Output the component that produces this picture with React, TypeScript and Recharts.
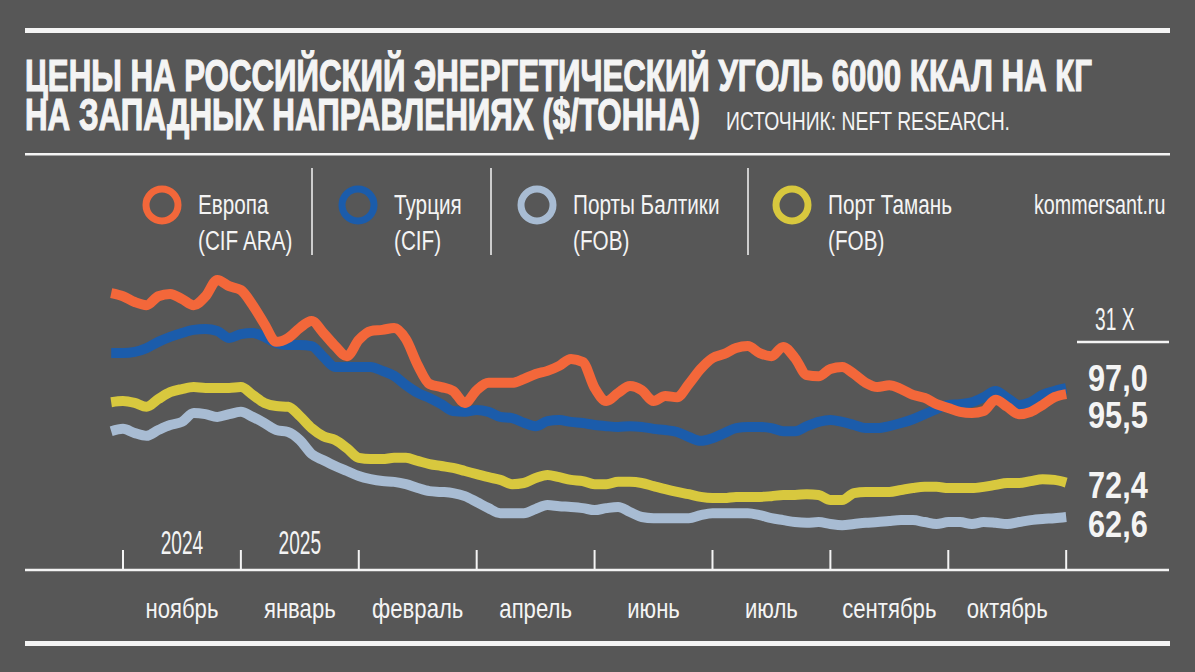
import React from 'react';
import { LineChart, Line, XAxis, YAxis } from 'recharts';

const weeks = Array.from({ length: 82 }, (_, i) => i - 1);

const europe = [121.6, 120.8, 119.3, 118.5, 120.8, 121.4, 120.1, 118.5, 120.8, 125.0, 123.4, 122.4, 118.5, 113.6, 109.0, 110.0, 112.6, 114.4, 111.3, 107.9, 105.3, 109.5, 111.8, 112.1, 112.6, 109.7, 103.0, 98.1, 97.3, 96.3, 93.2, 96.5, 98.4, 98.4, 98.4, 99.4, 100.7, 101.5, 102.8, 104.6, 103.8, 97.1, 93.7, 95.8, 97.6, 96.5, 93.7, 95.0, 94.7, 98.1, 102.0, 104.8, 105.9, 107.4, 107.9, 106.1, 105.3, 107.7, 104.8, 100.4, 100.1, 102.0, 102.5, 100.7, 98.4, 97.3, 97.8, 96.8, 95.3, 94.5, 92.9, 91.9, 90.9, 90.6, 91.1, 94.0, 92.2, 90.3, 90.9, 92.7, 94.7, 95.5];
const turkey = [106.1, 106.1, 106.4, 107.4, 109.0, 110.3, 111.3, 112.1, 112.3, 111.8, 110.0, 111.0, 111.3, 110.3, 108.7, 108.2, 108.2, 107.9, 105.1, 102.5, 102.5, 102.5, 102.5, 101.5, 100.2, 97.8, 95.8, 94.5, 92.9, 91.1, 90.9, 91.4, 90.9, 89.6, 89.3, 88.1, 87.2, 88.5, 88.8, 88.3, 88.0, 87.5, 87.2, 87.0, 87.2, 87.0, 86.5, 86.2, 85.7, 84.4, 83.4, 84.1, 85.4, 86.7, 87.0, 87.0, 86.7, 85.9, 85.9, 87.2, 88.3, 88.8, 88.3, 87.5, 86.7, 86.7, 87.2, 88.0, 89.0, 90.3, 91.6, 92.7, 92.9, 93.4, 94.7, 96.3, 94.5, 92.7, 93.4, 95.3, 96.3, 97.0];
const baltic = [85.9, 86.5, 85.4, 84.7, 86.2, 87.5, 88.3, 90.6, 90.3, 89.6, 90.3, 90.9, 89.6, 88.0, 86.2, 85.7, 83.6, 80.0, 78.4, 76.9, 75.6, 74.3, 73.5, 73.0, 72.8, 72.2, 71.2, 70.4, 70.2, 69.9, 69.1, 67.6, 66.0, 64.7, 64.7, 64.7, 65.8, 66.8, 66.5, 66.3, 66.0, 65.5, 66.0, 66.3, 65.0, 63.7, 63.4, 63.4, 63.4, 63.4, 64.2, 64.7, 64.7, 64.7, 64.7, 64.2, 63.4, 62.9, 62.4, 62.2, 62.4, 61.9, 61.6, 61.9, 62.2, 62.4, 62.7, 62.9, 62.9, 62.4, 61.9, 62.4, 62.4, 61.9, 62.4, 62.2, 61.9, 62.4, 62.9, 63.2, 63.4, 63.7];
const taman = [93.4, 93.7, 93.2, 92.2, 94.2, 96.0, 96.8, 97.3, 97.1, 97.1, 97.1, 97.3, 95.3, 93.2, 92.4, 92.2, 89.8, 86.7, 84.6, 83.6, 81.5, 79.0, 78.7, 78.7, 79.0, 79.0, 78.2, 77.4, 76.9, 76.4, 75.6, 74.8, 74.0, 73.3, 72.2, 72.5, 73.8, 74.6, 74.0, 73.3, 73.0, 72.2, 72.2, 72.8, 72.8, 72.5, 71.7, 70.9, 70.2, 69.6, 68.9, 68.6, 68.6, 68.9, 68.9, 68.9, 69.1, 69.4, 69.4, 69.6, 69.4, 68.1, 68.1, 69.9, 70.2, 70.2, 70.2, 70.7, 71.2, 71.5, 71.5, 71.2, 71.2, 71.2, 71.5, 72.0, 72.5, 72.5, 73.0, 73.5, 73.3, 72.6];

const xTicks = [0, 5, 10, 15, 20, 25, 30, 35, 40, 45, 50, 55, 60, 65, 70, 75, 80];
const months = ['ноябрь', 'январь', 'февраль', 'апрель', 'июнь', 'июль', 'сентябрь', 'октябрь'];
const years = ['2024', '2025'];
const yTicks = [50, 65, 80, 95, 110, 125, 140];

const lastLabels = ['97,0', '95,5', '72,4', '62,6'];

const data = weeks.map((t, i) => ({
  t,
  europe: europe[i],
  turkey: turkey[i],
  baltic: baltic[i],
  taman: taman[i],
}));

const BG = '#575757';
const WHITE = '#f4f4f4';
const ORANGE = '#f3673a';
const BLUE = '#1b5cab';
const LIGHT = '#a8bcd3';
const YELLOW = '#d8c83e';
const FONT = '"Liberation Sans", Arial, sans-serif';

const legend = [
  { name: 'Европа', sub: '(CIF ARA)', color: ORANGE },
  { name: 'Турция', sub: '(CIF)', color: BLUE },
  { name: 'Порты Балтики', sub: '(FOB)', color: LIGHT },
  { name: 'Порт Тамань', sub: '(FOB)', color: YELLOW },
];

const CText: React.FC<any> = ({ x, y, sx = 1, size, anchor = 'start', weight = 400, children }) => (
  <text
    transform={`translate(${x},${y}) scale(${sx},1)`}
    textAnchor={anchor}
    fontSize={size}
    fontWeight={weight}
    fontFamily={FONT}
    fill={WHITE}
  >
    {children}
  </text>
);

const YTick: React.FC<any> = ({ y, payload }) => {
  const v = payload.value;
  return (
    <g>
      <CText x={30} y={y - 7} sx={0.6} size={38}>{v}</CText>
      {v !== 50 && <line x1={25} x2={72} y1={y} y2={y} stroke={WHITE} strokeWidth={2.5} />}
    </g>
  );
};

const XTick: React.FC<any> = ({ x, y, payload }) => {
  const v = payload.value;
  if (v % 10 === 0) {
    return <line x1={x} x2={x} y1={y - 1} y2={y - 20} stroke={WHITE} strokeWidth={2} />;
  }
  const idx = (v - 5) / 10;
  return (
    <g>
      <CText x={x} y={y + 48} sx={0.82} size={27} anchor="middle">{months[idx]}</CText>
      {years[idx] && <CText x={x} y={y - 16} sx={0.58} size={33} anchor="middle">{years[idx]}</CText>}
    </g>
  );
};

const Overlay = () => {
  const legendX = [162, 358, 537, 792];
  const seps = [312, 491, 748];
  const lastY = [391, 428, 498, 537];
  return (
    <svg width={1195} height={672} style={{ position: 'absolute', left: 0, top: 0, pointerEvents: 'none' }}>
      <rect x={25} y={28} width={1145} height={5} fill={WHITE} />
      <text x={25} y={91} fontSize={45} fontWeight={700} fontFamily={FONT} fill={WHITE} stroke={WHITE} strokeWidth={1.2}
        textLength={1067} lengthAdjust="spacingAndGlyphs">
        ЦЕНЫ НА РОССИЙСКИЙ ЭНЕРГЕТИЧЕСКИЙ УГОЛЬ 6000 ККАЛ НА КГ
      </text>
      <text x={25} y={130} fontSize={45} fontWeight={700} fontFamily={FONT} fill={WHITE} stroke={WHITE} strokeWidth={1.2}
        textLength={675} lengthAdjust="spacingAndGlyphs">
        НА ЗАПАДНЫХ НАПРАВЛЕНИЯХ ($/ТОННА)
      </text>
      <text x={726} y={130} fontSize={26} fontFamily={FONT} fill={WHITE}
        textLength={284} lengthAdjust="spacingAndGlyphs">
        ИСТОЧНИК: NEFT RESEARCH.
      </text>
      <rect x={25} y={153} width={1145} height={2.5} fill={WHITE} />

      {legend.map((l, i) => (
        <g key={l.name}>
          <circle cx={legendX[i]} cy={205} r={16} fill="none" stroke={l.color} strokeWidth={7} />
          <CText x={legendX[i] + 36} y={214} sx={0.74} size={28}>{l.name}</CText>
          <CText x={legendX[i] + 36} y={250} sx={0.74} size={28}>{l.sub}</CText>
        </g>
      ))}
      {seps.map((sx) => (
        <line key={sx} x1={sx} x2={sx} y1={168} y2={255} stroke={WHITE} strokeWidth={1.5} />
      ))}
      <CText x={1034} y={214} sx={0.73} size={27}>kommersant.ru</CText>

      <CText x={1095} y={330} sx={0.6} size={32}>31 X</CText>
      <line x1={1077} x2={1169} y1={342} y2={342} stroke={WHITE} strokeWidth={2.5} />
      {lastLabels.map((s, i) => (
        <CText key={s} x={1088} y={lastY[i]} sx={0.83} size={37} weight={700}>{s}</CText>
      ))}

      <rect x={25} y={641} width={1145} height={5} fill={WHITE} />
    </svg>
  );
};

export default function App() {
  return (
    <div style={{ position: 'absolute', left: 0, top: 0, width: 1195, height: 672, background: BG, overflow: 'hidden' }}>
      <LineChart width={1195} height={672} data={data} margin={{ top: 222, right: 26, left: 25, bottom: 42 }}>
        <XAxis
          dataKey="t"
          type="number"
          domain={[-8.31, 88.72]}
          allowDataOverflow
          ticks={xTicks}
          interval={0}
          tickSize={0}
          tickMargin={0}
          height={60}
          axisLine={{ stroke: WHITE, strokeWidth: 2.5 }}
          tickLine={false}
          tick={<XTick />}
        />
        <YAxis
          domain={[50, 140]}
          ticks={yTicks}
          interval={0}
          width={0}
          axisLine={false}
          tickLine={false}
          tick={<YTick />}
        />
        <Line type="monotone" dataKey="baltic" stroke={LIGHT} strokeWidth={10} dot={false} isAnimationActive={false} strokeLinejoin="round" />
        <Line type="monotone" dataKey="taman" stroke={YELLOW} strokeWidth={10} dot={false} isAnimationActive={false} strokeLinejoin="round" />
        <Line type="monotone" dataKey="turkey" stroke={BLUE} strokeWidth={10} dot={false} isAnimationActive={false} strokeLinejoin="round" />
        <Line type="monotone" dataKey="europe" stroke={ORANGE} strokeWidth={10} dot={false} isAnimationActive={false} strokeLinejoin="round" />
      </LineChart>
      <Overlay />
    </div>
  );
}
